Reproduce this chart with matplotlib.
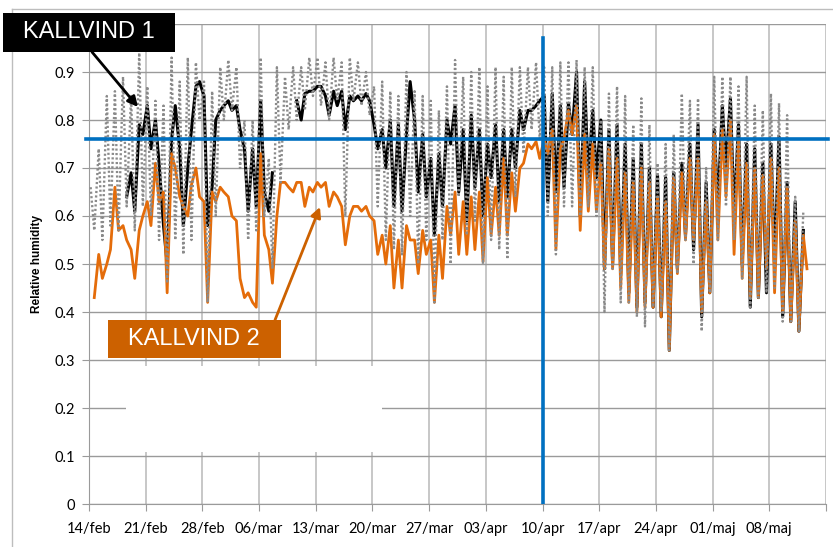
import numpy as np
import pandas as pd
import matplotlib
matplotlib.use("Agg")
import matplotlib.pyplot as plt
from matplotlib.patches import Rectangle
from matplotlib.lines import Line2D

nan = np.nan

# one value per day: "night" = daily high, "day" = daily low
start = pd.Timestamp("2012-02-14")

gray_night = [0.66, 0.74, 0.85, 0.86, 0.89, 0.85, 0.94, 0.87, 0.84, 0.83,
              0.93, 0.88, 0.93, 0.92, 0.88, 0.86, 0.91, 0.925, 0.91, 0.80,
              0.80, 0.93, 0.72, 0.91, 0.89, 0.91, 0.91, 0.93, 0.93, 0.92,
              0.93, 0.92, 0.93, 0.92, 0.90, 0.87, 0.88, 0.86, 0.85, 0.90,
              0.86, 0.85, 0.84, 0.82, 0.87, 0.925, 0.89, 0.90, 0.91, 0.87,
              0.91, 0.89, 0.91, 0.91, 0.91, 0.92, 0.91, 0.91, 0.92, 0.92,
              0.925, 0.91, 0.91, 0.80, 0.855, 0.87, 0.85, 0.79, 0.845, 0.79,
              0.71, 0.75, 0.77, 0.855, 0.84, 0.845, 0.70, 0.89, 0.89, 0.89,
              0.87, 0.89, 0.83, 0.82, 0.855, 0.835, 0.81, 0.64, 0.61, nan]
gray_day = [0.57, 0.55, 0.58, 0.57, 0.62, 0.57, 0.62, 0.60, 0.55, 0.46,
            0.55, 0.52, 0.55, 0.80, 0.42, 0.60, 0.80, 0.82, 0.70, 0.55,
            0.57, 0.60, 0.49, 0.67, 0.78, 0.80, 0.82, 0.85, 0.83, 0.80,
            0.84, 0.60, 0.84, 0.83, 0.81, 0.62, 0.55, 0.53, 0.52, 0.60,
            0.50, 0.55, 0.42, 0.55, 0.50, 0.64, 0.56, 0.59, 0.50, 0.55,
            0.53, 0.51, 0.64, 0.73, 0.78, 0.76, 0.60, 0.52, 0.62, 0.62,
            0.60, 0.62, 0.60, 0.40, 0.49, 0.42, 0.42, 0.39, 0.37, 0.41,
            0.40, 0.32, 0.48, 0.55, 0.50, 0.36, 0.44, 0.55, 0.62, 0.55,
            0.47, 0.41, 0.43, 0.44, 0.45, 0.38, 0.38, 0.36, nan, nan]

k1_night = [nan, nan, nan, nan, nan, 0.69, 0.79, 0.83, 0.80, 0.58,
            0.76, 0.74, 0.70, 0.87, 0.85, 0.66, 0.82, 0.84, 0.83, 0.74,
            0.74, 0.84, 0.61, nan, nan, nan, 0.80, 0.86, 0.87, 0.85,
            0.86, 0.86, 0.85, 0.85, 0.855, 0.79, 0.78, 0.80, 0.79, 0.77,
            0.80, 0.77, 0.72, 0.73, 0.80, 0.83, 0.78, 0.81, 0.78, 0.75,
            0.79, 0.78, 0.78, 0.82, 0.82, 0.83, 0.85, 0.855, 0.83, 0.835,
            0.90, 0.88, 0.82, 0.80, 0.78, 0.79, 0.75, 0.72, 0.75, 0.70,
            0.685, 0.68, 0.69, 0.71, 0.75, 0.79, 0.67, 0.78, 0.83, 0.845,
            0.79, 0.75, 0.74, 0.71, 0.75, 0.765, 0.67, 0.63, 0.57, nan]
k1_day = [nan, nan, nan, nan, 0.64, 0.61, 0.77, 0.74, 0.71, 0.50,
          0.83, 0.58, 0.78, 0.88, 0.58, 0.80, 0.83, 0.82, 0.78, 0.61,
          0.62, 0.65, 0.69, nan, nan, 0.84, 0.855, 0.86, 0.87, 0.81,
          0.83, 0.78, 0.84, 0.84, 0.84, 0.74, 0.70, 0.62, 0.61, 0.88,
          0.65, 0.64, 0.56, 0.62, 0.75, 0.65, 0.59, 0.66, 0.60, 0.68,
          0.63, 0.64, 0.70, 0.78, 0.82, 0.84, 0.63, 0.65, 0.66, 0.77,
          0.60, 0.68, 0.68, 0.49, 0.50, 0.48, 0.44, 0.41, 0.42, 0.41,
          0.39, 0.32, 0.49, 0.56, 0.53, 0.39, 0.44, 0.62, 0.70, 0.60,
          0.50, 0.41, 0.43, 0.44, 0.50, 0.39, 0.38, 0.36, nan, nan]

k2_night = [nan, 0.52, 0.50, 0.66, 0.58, 0.53, 0.57, 0.63, 0.71, 0.65,
            0.73, 0.64, 0.60, 0.70, 0.63, 0.65, 0.66, 0.64, 0.59, 0.43,
            0.42, 0.73, 0.53, 0.60, 0.67, 0.65, 0.67, 0.66, 0.67, 0.67,
            0.65, 0.62, 0.60, 0.62, 0.62, 0.59, 0.56, 0.58, 0.55, 0.58,
            0.55, 0.57, 0.55, 0.56, 0.62, 0.65, 0.63, 0.64, 0.65, 0.68,
            0.66, 0.72, 0.69, 0.70, 0.75, 0.755, 0.76, 0.78, 0.74, 0.82,
            0.83, 0.77, 0.75, 0.71, 0.74, 0.72, 0.69, 0.67, 0.70, 0.67,
            0.64, 0.63, 0.68, 0.69, 0.72, 0.72, 0.63, 0.77, 0.78, 0.80,
            0.76, 0.71, 0.70, 0.685, 0.72, 0.70, 0.66, 0.59, 0.56, nan]
k2_day = [0.43, 0.47, 0.53, 0.57, 0.55, 0.47, 0.60, 0.58, 0.63, 0.44,
          0.70, 0.62, 0.665, 0.64, 0.42, 0.63, 0.65, 0.60, 0.47, 0.44,
          0.41, 0.56, 0.46, 0.67, 0.66, 0.67, 0.62, 0.65, 0.66, 0.62,
          0.64, 0.54, 0.62, 0.61, 0.60, 0.52, 0.50, 0.45, 0.45, 0.55,
          0.48, 0.52, 0.42, 0.47, 0.56, 0.52, 0.52, 0.53, 0.505, 0.56,
          0.56, 0.56, 0.61, 0.71, 0.74, 0.72, 0.73, 0.53, 0.76, 0.77,
          0.57, 0.61, 0.61, 0.49, 0.49, 0.45, 0.42, 0.40, 0.41, 0.41,
          0.39, 0.32, 0.48, 0.55, 0.55, 0.40, 0.44, 0.55, 0.64, 0.52,
          0.47, 0.43, 0.43, 0.49, 0.44, 0.40, 0.38, 0.36, 0.49, nan]

tick_labels = ["14/feb", "21/feb", "28/feb", "06/mar", "13/mar", "20/mar", "27/mar",
               "03/apr", "10/apr", "17/apr", "24/apr", "01/maj", "08/maj", ""]
y_labels = ["0", "0.1", "0.2", "0.3", "0.4", "0.5", "0.6", "0.7", "0.8", "0.9", ""]
limit_rh = 0.76
limit_date = "2012-04-10"


def series(night, day):
    n = len(night)
    vals = np.column_stack([night, day]).ravel()
    offs = np.repeat(np.arange(n), 2) + np.tile([0.2, 0.65], n)
    return start + pd.to_timedelta(offs, unit="D"), vals


fig = plt.figure(figsize=(8.33, 5.47), dpi=100)
ax = fig.add_axes([89 / 833, 1 - 504 / 547, (826 - 89) / 833, 480 / 547])

t, v = series(k1_night, k1_day)
ax.plot(t, v, color="black", lw=2.2, zorder=3)
t, v = series(k2_night, k2_day)
ax.plot(t, v, color="#e46c0a", lw=2.0, zorder=4)
t, v = series(gray_night, gray_day)
ax.plot(t, v, color="#8a8a8a", lw=1.7, ls=(0, (0.9, 1.0)), zorder=5)

ax.axhline(limit_rh, xmin=-0.004, xmax=1.003, color="#0070c0", lw=2.6, zorder=6, clip_on=False)
ax.plot([pd.Timestamp(limit_date)] * 2, [0, 0.97], color="#0070c0", lw=2.6, zorder=6)

ticks = pd.date_range(start, periods=len(tick_labels), freq="7D")
ax.set_xlim(ticks[0], ticks[-1])
ax.set_xticks(ticks)
ax.set_xticklabels(tick_labels)
ax.set_ylim(0, 1)
ax.set_yticks(np.linspace(0, 1, 11))
ax.set_yticklabels(y_labels)

ax.grid(axis="y", color="#9a9a9a", lw=1.0)
ax.grid(axis="x", color="#bdbdbd", lw=1.2)
ax.set_axisbelow(True)
for s in ["top", "right"]:
    ax.spines[s].set_visible(False)
for s in ["left", "bottom"]:
    ax.spines[s].set_color("#9a9a9a")
ax.tick_params(axis="both", colors="#9a9a9a", length=5, labelcolor="black")
ax.tick_params(axis="x", pad=8, labelsize=10.5)
ax.tick_params(axis="y", pad=5, labelsize=10.5)
for lab in ax.get_xticklabels() + ax.get_yticklabels():
    lab.set_fontfamily("Lato")

fig.text(37 / 833, 1 - 264 / 547, "Relative humidity", rotation=90, fontsize=8.5,
         fontweight="bold", ha="center", va="center", family="Liberation Sans")

# white patch over part of the grid
fig.add_artist(Rectangle((126, 547 - 452), 256, 86, transform=None,
                         facecolor="white", edgecolor="none", zorder=2))

# chart border
fig.add_artist(Line2D([12, 833], [538, 538], transform=None, color="#bdbdbd", lw=1))
fig.add_artist(Line2D([12, 12], [0, 538], transform=None, color="#bdbdbd", lw=1))

# label boxes
fig.add_artist(Rectangle((3, 547 - 52), 172, 39, transform=None,
                         facecolor="black", edgecolor="none", zorder=10))
fig.text(89 / 833, 1 - 32 / 547, "KALLVIND 1", color="white", fontsize=17,
         ha="center", va="center", family="Liberation Sans", zorder=11)
fig.add_artist(Rectangle((108, 547 - 358), 173, 38, transform=None,
                         facecolor="#cc6100", edgecolor="none", zorder=10))
fig.text(194 / 833, 1 - 339 / 547, "KALLVIND 2", color="white", fontsize=17,
         ha="center", va="center", family="Liberation Sans", zorder=11)

ax.annotate("", xy=(138, 547 - 107), xytext=(92, 547 - 52),
            xycoords="figure pixels", textcoords="figure pixels",
            arrowprops=dict(arrowstyle="-|>", color="black", lw=2, mutation_scale=15,
                            shrinkA=0, shrinkB=0), zorder=9)
ax.annotate("", xy=(320, 547 - 207), xytext=(275, 547 - 320),
            xycoords="figure pixels", textcoords="figure pixels",
            arrowprops=dict(arrowstyle="-|>", color="#cc6100", lw=2, mutation_scale=15,
                            shrinkA=0, shrinkB=0), zorder=9)

fig.savefig("out.png", dpi=100)
